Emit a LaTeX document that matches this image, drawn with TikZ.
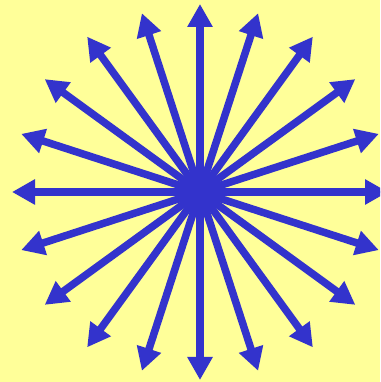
\documentclass[tikz,border=0pt]{standalone}
\usetikzlibrary{arrows.meta,calc}
\definecolor{bgyellow}{HTML}{FFFF99}
\definecolor{rayblue}{HTML}{3333CC}
\tikzset{
  ray/.style={draw=rayblue, line width=7.5pt, -{Triangle[length=23pt,width=24pt]}}
}
\begin{document}
\begin{tikzpicture}[x=1pt,y=1pt]
  \useasboundingbox (0,0) rectangle (380,382);
  \clip (0,0) rectangle (380,382);
  \fill[bgyellow] (0,0) rectangle (380,382);
  \coordinate (c) at (200,190);
  \foreach \a/\r in {0/188,18/188,36/192,54/192,72/188,90/188,108/188,126/192,144/192,162/188,
                     180/188,198/188,216/192,234/192,252/188,270/188,288/188,306/192,324/192,342/188}{
    \coordinate (t\a) at ($(c)+(\a:\r)$);
    \draw[ray] (c) -- (t\a);
  }
  \fill[rayblue] (c) circle (10);
\end{tikzpicture}
\end{document}
